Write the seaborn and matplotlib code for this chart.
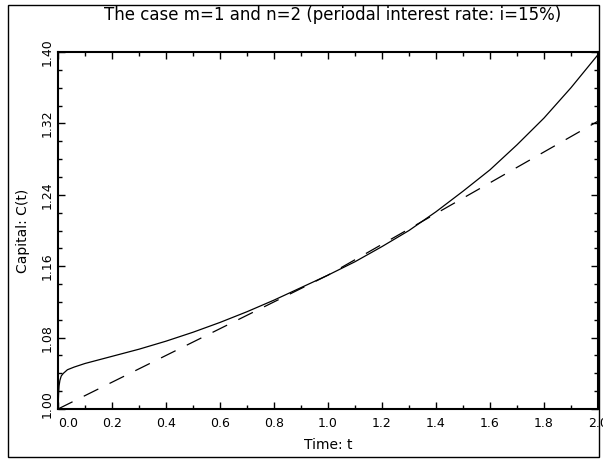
import numpy as np
import pandas as pd
import matplotlib
matplotlib.use("Agg")
import matplotlib.pyplot as plt
import matplotlib.transforms as mtrans
from matplotlib.ticker import MultipleLocator, FormatStrFormatter
from matplotlib.patches import Rectangle
import seaborn as sns

# capital with continuous compounding inside the periods
t_solid = [0.0, 0.002, 0.004, 0.007, 0.012, 0.02, 0.035, 0.06, 0.1, 0.15, 0.2, 0.3, 0.4,
           0.5, 0.6, 0.7, 0.8, 0.9, 1.0, 1.1, 1.2, 1.3, 1.4, 1.5, 1.6, 1.7,
           1.8, 1.9, 2.0]
c_solid = [1.000, 1.016, 1.026, 1.032, 1.037, 1.040, 1.044, 1.047, 1.051, 1.055, 1.059,
           1.067, 1.076, 1.086, 1.097, 1.109, 1.122, 1.136, 1.150, 1.165, 1.182,
           1.200, 1.221, 1.244, 1.268, 1.296, 1.326, 1.360, 1.397]

# linear interpolation between the period ends
t_dash = [0.0, 1.0, 2.0]
c_dash = [1.000, 1.150, 1.3225]

x_ticks = [0.0, 0.2, 0.4, 0.6, 0.8, 1.0, 1.2, 1.4, 1.6, 1.8, 2.0]
y_ticks = [1.00, 1.08, 1.16, 1.24, 1.32, 1.40]

solid = pd.DataFrame({"t": t_solid, "C": c_solid})
dash = pd.DataFrame({"t": t_dash, "C": c_dash})

sns.set_style("ticks")
plt.rcParams["font.family"] = ["DejaVu Sans"]
plt.rcParams["text.color"] = "black"

W, H = 603, 459
fig = plt.figure(figsize=(W / 100, H / 100), dpi=100)
ax = fig.add_axes([58 / W, 1 - 409 / H, (598 - 58) / W, (409 - 52) / H])

sns.lineplot(data=solid, x="t", y="C", ax=ax, color="black", lw=0.9, estimator=None)
sns.lineplot(data=dash, x="t", y="C", ax=ax, color="black", lw=0.9, estimator=None)
ax.lines[-1].set_dashes([13, 10])

ax.set_xlim(0, 2.0)
ax.set_ylim(1.0, 1.4)
ax.set_xticks(x_ticks)
ax.set_yticks(y_ticks)
ax.xaxis.set_minor_locator(MultipleLocator(0.1))
ax.yaxis.set_minor_locator(MultipleLocator(0.02))
ax.xaxis.set_major_formatter(FormatStrFormatter("%.1f"))
ax.yaxis.set_major_formatter(FormatStrFormatter("%.2f"))

ax.tick_params(which="both", direction="in", top=True, right=True, width=1,
               labelsize=9, colors="black", labelcolor="black")
ax.tick_params(which="major", length=5)
ax.tick_params(axis="x", which="major", pad=6)
ax.tick_params(axis="y", which="major", pad=3)
ax.tick_params(which="minor", length=3)
for lab in ax.get_yticklabels():
    lab.set_rotation(90)
    lab.set_va("center")
for s in ax.spines.values():
    s.set_linewidth(1.5)
    s.set_color("black")

fig.canvas.draw()
xl = ax.get_xticklabels()
xl[0].set_ha("left")
yl = ax.get_yticklabels()
yl[0].set_transform(yl[0].get_transform() + mtrans.ScaledTranslation(0, 5 / 100, fig.dpi_scale_trans))

ax.set_xlabel("")
ax.set_ylabel("")
fig.text(328 / W, 1 - 445 / H, "Time: t", ha="center", va="center", fontsize=10)
fig.text(23 / W, 1 - 231 / H, "Capital: C(t)", ha="center", va="center",
         rotation=90, fontsize=10)
fig.text(333 / W, 1 - 15 / H, "The case m=1 and n=2 (periodal interest rate: i=15%)",
         ha="center", va="center", fontsize=12)

fig.patches.append(Rectangle((8 / W, 1 - 457 / H), (599 - 8) / W, (457 - 5) / H,
                             transform=fig.transFigure, fill=False,
                             edgecolor="black", lw=1))

fig.savefig("out.png", dpi=100)
